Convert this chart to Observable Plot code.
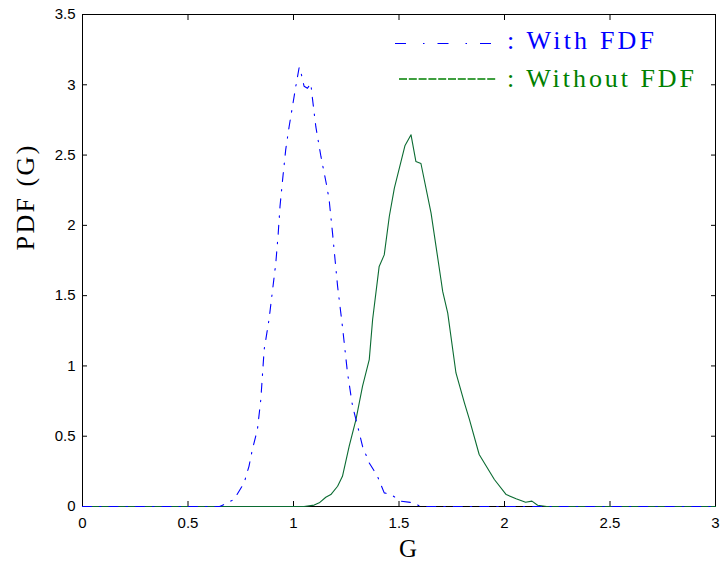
<!DOCTYPE html>
<html>
<head>
<meta charset="utf-8">
<script src="https://cdn.jsdelivr.net/npm/d3@7"></script>
<script src="https://cdn.jsdelivr.net/npm/@observablehq/plot@0.6"></script>
<style>
  html, body { margin: 0; padding: 0; background: #fff; }
  #chart { width: 721px; height: 563px; }
</style>
</head>
<body>
<div id="chart"></div>
<script>
// ---- data ----
const xTicks = [0, 0.5, 1, 1.5, 2, 2.5, 3];
const yTicks = [0, 0.5, 1, 1.5, 2, 2.5, 3, 3.5];

const seriesNames = ["With FDF", "Without FDF"];
const xLabel = "G";
const yLabel = "PDF (G)";

// With FDF (blue, dash-dot)
const withG = [0, 0.65, 0.67, 0.718, 0.766, 0.789, 0.805, 0.829, 0.845, 0.861, 0.884, 0.916, 0.927, 0.936, 0.948, 0.963, 0.979, 0.995, 1.011, 1.027, 1.035, 1.05, 1.066, 1.082, 1.09, 1.106, 1.13, 1.158, 1.169, 1.185, 1.209, 1.232, 1.256, 1.28, 1.304, 1.327, 1.359, 1.398, 1.43, 1.462, 1.509, 1.572, 1.6, 3];
const withPdf = [0, 0, 0.014, 0.05, 0.168, 0.286, 0.405, 0.547, 0.76, 1.116, 1.33, 1.73, 1.93, 2.134, 2.32, 2.537, 2.70, 2.845, 2.99, 3.125, 3.09, 2.99, 2.975, 3.01, 2.9, 2.70, 2.49, 2.277, 2.18, 1.945, 1.566, 1.28, 0.95, 0.713, 0.571, 0.429, 0.31, 0.215, 0.097, 0.085, 0.038, 0.026, 0, 0];

// Without FDF (green, solid)
const withoutG = [0, 1.05, 1.098, 1.122, 1.153, 1.177, 1.209, 1.232, 1.264, 1.296, 1.327, 1.359, 1.375, 1.406, 1.43, 1.454, 1.478, 1.528, 1.557, 1.58, 1.604, 1.652, 1.699, 1.707, 1.731, 1.77, 1.81, 1.834, 1.88, 1.952, 2.008, 2.055, 2.1, 2.13, 2.157, 2.2, 3];
const withoutPdf = [0, 0, 0.01, 0.026, 0.066, 0.085, 0.144, 0.215, 0.429, 0.618, 0.855, 1.045, 1.33, 1.708, 1.79, 2.063, 2.265, 2.566, 2.644, 2.455, 2.44, 2.087, 1.613, 1.53, 1.376, 0.95, 0.737, 0.618, 0.37, 0.192, 0.085, 0.055, 0.03, 0.038, 0.009, 0, 0];

const withData = withG.map((g, i) => ({g, pdf: withPdf[i]}));
const withoutData = withoutG.map((g, i) => ({g, pdf: withoutPdf[i]}));

const blue = "#0000ff";
const green = "#0b6b32";
const greenText = "#008000";
const serif = "'Liberation Serif', 'Times New Roman', serif";

const chart = Plot.plot({
  width: 721,
  height: 563,
  marginLeft: 82,
  marginRight: 6,
  marginTop: 14,
  marginBottom: 57,
  x: {domain: [0, 3]},
  y: {domain: [0, 3.5]},
  style: {fontFamily: "'Liberation Sans', Arial, sans-serif", fontSize: "15px", color: "black", background: "white"},
  marks: [
    Plot.frame({stroke: "black", strokeWidth: 1}),
    // tick labels
    Plot.axisX({ticks: xTicks, tickSize: 0, tickPadding: 11, label: null, tickFormat: d => String(d)}),
    Plot.axisY({ticks: yTicks, tickSize: 0, tickPadding: 7, label: null, tickFormat: d => String(d)}),
    // inward ticks on all four sides
    Plot.axisX({ticks: xTicks, anchor: "bottom", tickSize: 5, dy: -5, tickFormat: () => "", label: null}),
    Plot.axisX({ticks: xTicks, anchor: "top", tickSize: 5, dy: 5, tickFormat: () => "", label: null}),
    Plot.axisY({ticks: yTicks, anchor: "left", tickSize: 5, dx: 5, tickFormat: () => "", label: null}),
    Plot.axisY({ticks: yTicks, anchor: "right", tickSize: 5, dx: -5, tickFormat: () => "", label: null}),
    // curves (drawn over the frame, as in the original)
    Plot.line(withoutData, {x: "g", y: "pdf", stroke: green, strokeWidth: 1.1}),
    Plot.line(withData, {x: "g", y: "pdf", stroke: blue, strokeWidth: 1.1, strokeDasharray: "9,8,1.5,8"}),
    // axis titles
    Plot.text([xLabel], {text: d => d, frameAnchor: "bottom", dx: 9, dy: 42, lineAnchor: "middle", fontFamily: serif, fontSize: 25}),
    Plot.text([yLabel], {text: d => d, frameAnchor: "left", rotate: -90, dx: -57, dy: -10, lineAnchor: "middle", fontFamily: serif, fontSize: 26})
  ]
});

document.getElementById("chart").appendChild(chart);

const svg = d3.select(chart);
svg.selectAll("text").filter(function () { return this.textContent === yLabel; })
  .attr("textLength", 105).attr("lengthAdjust", "spacing");

// legend
const lg = svg.append("g").attr("text-anchor", "start");
lg.append("line").attr("x1", 395).attr("x2", 496).attr("y1", 43.5).attr("y2", 43.5)
  .attr("stroke", blue).attr("stroke-width", 1.1).attr("stroke-dasharray", "11,17,1.5,13");
lg.append("text").attr("x", 507).attr("y", 48.5).attr("fill", blue)
  .attr("font-family", serif).attr("font-size", 26)
  .attr("textLength", 147).attr("lengthAdjust", "spacing")
  .text(": " + seriesNames[0]);
lg.append("line").attr("x1", 399).attr("x2", 497).attr("y1", 79).attr("y2", 79)
  .attr("stroke", greenText).attr("stroke-width", 1.3).attr("stroke-dasharray", "8,1.8");
lg.append("text").attr("x", 507).attr("y", 86.5).attr("fill", greenText)
  .attr("font-family", serif).attr("font-size", 26)
  .attr("textLength", 187).attr("lengthAdjust", "spacing")
  .text(": " + seriesNames[1]);
</script>
</body>
</html>
